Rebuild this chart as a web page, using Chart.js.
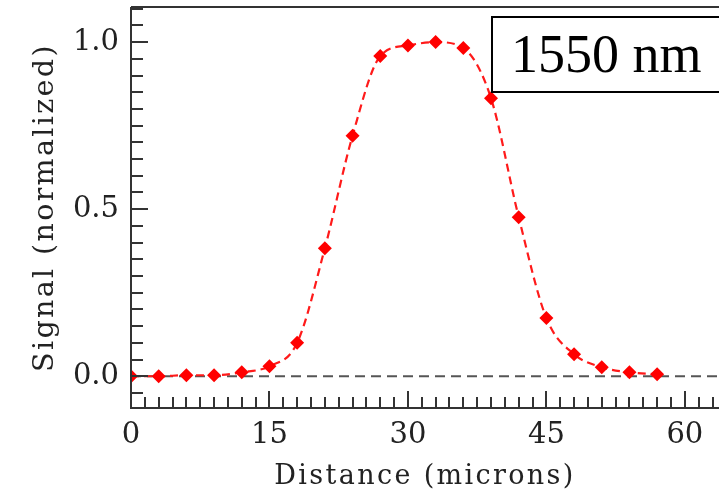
<!DOCTYPE html>
<html><head><meta charset="utf-8">
<script src="https://cdn.jsdelivr.net/npm/chart.js@4.4.0/dist/chart.umd.min.js"></script>
<style>html,body{margin:0;padding:0;background:#fff;overflow:hidden}#wrap{width:719px;height:496px;position:relative}</style>
</head><body><div id="wrap"><canvas id="c" width="719" height="496"></canvas></div>
<script>
// ---- data ----
const distance = [0, 3, 6, 9, 12, 15, 18, 21, 24, 27, 30, 33, 36, 39, 42, 45, 48, 51, 54, 57];
const signal   = [0, 0, 0.003, 0.003, 0.012, 0.03, 0.10, 0.383, 0.72, 0.958, 0.99, 1.0, 0.982, 0.832, 0.476, 0.174, 0.066, 0.027, 0.012, 0.006];
const xLabelValues = [0, 15, 30, 45, 60];
const yLabelValues = [0, 0.5, 1.0];
const xRange = [0, 63.7];
const yRange = [-0.095, 1.105];
const xMinorStep = 1.5;
const yMinorStep = 0.05;
const legendText = '1550 nm';
const xTitle = 'Distance (microns)';
const yTitle = 'Signal (normalized)';

const FONT = "'DejaVu Serif', serif";
const AX = '#333';

function stepTicks(min, max, step) {
  const out = [];
  const start = Math.ceil(min / step - 1e-9);
  const end = Math.floor(max / step + 1e-9);
  for (let i = start; i <= end; i++) out.push(Math.round(i * step * 1000) / 1000);
  return out;
}
const isLabel = (arr, v) => arr.some(a => Math.abs(a - v) < 1e-6);

const framePlugin = {
  id: 'frame',
  beforeDraw(chart) { chart.ctx.letterSpacing = '2.35px'; },
  afterDatasetsDraw(chart) {
    const {ctx, chartArea: a, scales: {x, y}} = chart;
    ctx.letterSpacing = '0px';
    ctx.save();
    ctx.strokeStyle = AX;
    ctx.lineWidth = 2;
    ctx.beginPath();
    ctx.moveTo(a.left, a.top); ctx.lineTo(a.left, a.bottom); ctx.lineTo(a.right, a.bottom);
    ctx.moveTo(a.left, a.top); ctx.lineTo(a.right, a.top);
    x.ticks.forEach(t => {
      const px = Math.round(x.getPixelForValue(t.value));
      const len = isLabel(xLabelValues, t.value) ? 17 : 11;
      ctx.moveTo(px, a.bottom); ctx.lineTo(px, a.bottom - len);
    });
    y.ticks.forEach(t => {
      const py = Math.round(y.getPixelForValue(t.value));
      const len = isLabel(yLabelValues, t.value) ? 17 : 12;
      ctx.moveTo(a.left, py); ctx.lineTo(a.left + len, py);
    });
    ctx.stroke();
    // legend box
    ctx.fillStyle = '#fff';
    ctx.fillRect(492, 17, 240, 75);
    ctx.strokeStyle = '#000';
    ctx.lineWidth = 2;
    ctx.strokeRect(492, 17, 240, 75);
    ctx.fillStyle = '#000';
    ctx.font = "54px 'Liberation Serif', 'Times New Roman', serif";
    ctx.textBaseline = 'alphabetic';
    ctx.textAlign = 'left';
    ctx.fillText(legendText, 511, 72);
    ctx.restore();
  }
};

new Chart(document.getElementById('c'), {
  type: 'line',
  data: {
    datasets: [
      {
        label: 'zero',
        data: xRange.map(v => ({x: v, y: 0})),
        borderColor: '#555',
        borderWidth: 2,
        borderDash: [10, 6],
        pointRadius: 0,
        order: 2
      },
      {
        label: legendText,
        data: distance.map((d, i) => ({x: d, y: signal[i]})),
        borderColor: '#ff1a1a',
        borderWidth: 2.2,
        borderDash: [8, 5],
        cubicInterpolationMode: 'monotone',
        pointStyle: 'rectRot',
        pointRadius: 7,
        pointBackgroundColor: '#ff0000',
        pointBorderColor: '#ff0000',
        pointBorderWidth: 0,
        order: 1
      }
    ]
  },
  options: {
    responsive: false,
    devicePixelRatio: 1,
    animation: false,
    events: [],
    layout: {autoPadding: false, padding: {left: 0, right: 0, top: 7, bottom: 0}},
    plugins: {legend: {display: false}, tooltip: {enabled: false}},
    scales: {
      x: {
        type: 'linear',
        min: xRange[0], max: xRange[1],
        afterBuildTicks: s => { s.ticks = stepTicks(xRange[0], xRange[1], xMinorStep).map(v => ({value: v})); },
        afterFit: s => { s.height = 496 - 408; s.paddingLeft = 0; s.paddingRight = 0; },
        grid: {display: false, drawTicks: false, z: 0},
        border: {display: false},
        ticks: {
          z: 1,
          autoSkip: false, maxRotation: 0, padding: 10,
          color: '#222', font: {family: FONT, size: 29},
          callback: v => isLabel(xLabelValues, v) ? String(Math.round(v)) : ''
        },
        title: {display: true, text: xTitle, color: '#222', font: {family: FONT, size: 27}, padding: {top: 0, bottom: 3}}
      },
      y: {
        type: 'linear',
        min: yRange[0], max: yRange[1],
        afterBuildTicks: s => { s.ticks = stepTicks(yRange[0], yRange[1], yMinorStep).map(v => ({value: v})); },
        afterFit: s => { s.width = 131; s.paddingTop = 0; s.paddingBottom = 0; },
        grid: {display: false, drawTicks: false, z: 0},
        border: {display: false},
        ticks: {
          z: 1,
          autoSkip: false, padding: 12,
          color: '#222', font: {family: FONT, size: 29},
          callback: v => isLabel(yLabelValues, v) ? v.toFixed(1) : ''
        },
        title: {display: true, text: yTitle, color: '#222', font: {family: FONT, size: 28.5}, padding: {top: 28, bottom: 0}}
      }
    }
  },
  plugins: [framePlugin]
});
</script></body></html>
